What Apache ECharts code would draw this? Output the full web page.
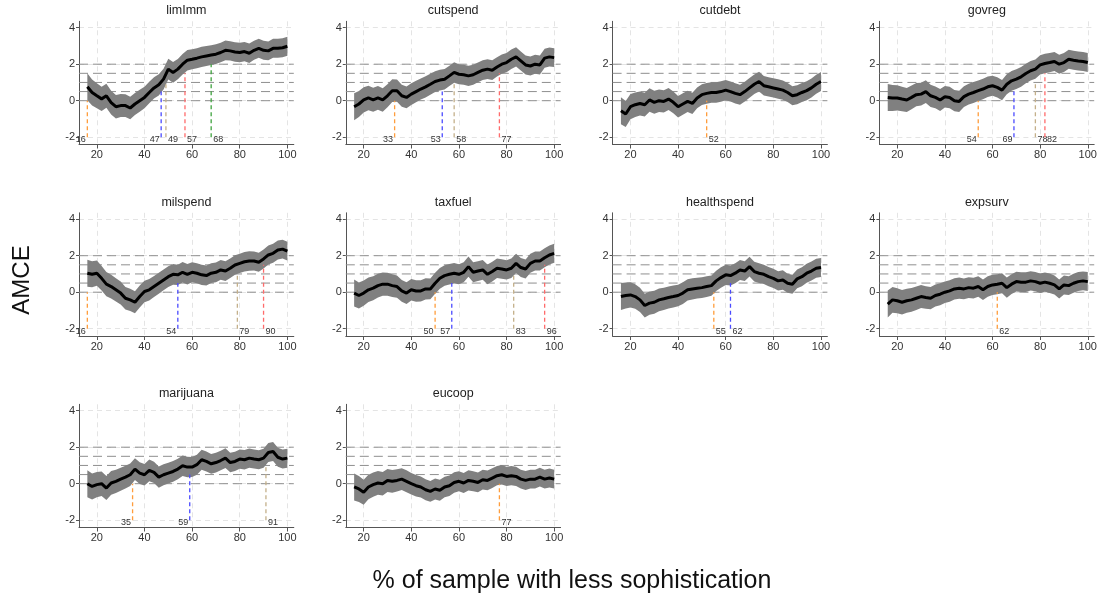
<!DOCTYPE html>
<html>
<head>
<meta charset="utf-8">
<script src="https://cdn.jsdelivr.net/npm/echarts@6/dist/echarts.min.js"></script>
<style>
  html, body { margin: 0; padding: 0; background: #fff; }
  #chart { width: 1103px; height: 602px; }
</style>
</head>
<body>
<div id="chart"></div>
<script>
// x positions of the smoothed estimates (% of sample with less sophistication)
var xs = [16,18,20,22,24,26,28,30,32,34,36,38,40,42,44,46,48,50,52,54,56,58,60,
          62,64,66,68,70,72,74,76,78,80,82,84,86,88,90,92,94,96,98,100];

var panelNames = ['limImm','cutspend','cutdebt','govreg','milspend','taxfuel',
                  'healthspend','expsurv','marijuana','eucoop'];

// AMCE estimates
var estLimImm = [0.76,0.45,0.27,0.1,0.27,-0.1,-0.33,-0.27,-0.27,-0.4,-0.18,0,0.18,0.45,0.7,0.87,1.18,1.73,1.55,1.73,2.0,2.22,2.27,
                 2.33,2.4,2.45,2.5,2.55,2.64,2.76,2.73,2.67,2.64,2.69,2.6,2.76,2.87,2.76,2.73,2.87,2.87,2.9,2.98];
var estCutspend = [-0.33,-0.18,0.04,0.15,0.05,0.15,0.04,0.27,0.55,0.55,0.27,0.18,0.36,0.5,0.64,0.76,0.9,1.05,1.13,1.18,1.36,1.55,1.45,
                   1.42,1.36,1.42,1.55,1.67,1.73,1.67,1.85,2.0,2.09,2.27,2.4,2.18,1.96,1.9,2.0,1.96,2.33,2.4,2.36];
var estCutdebt = [-0.55,-0.73,-0.33,-0.22,-0.15,-0.22,0.04,-0.09,0,-0.04,0.09,-0.09,-0.33,-0.18,-0.04,-0.15,0.15,0.33,0.4,0.45,0.45,0.5,0.58,
                  0.5,0.4,0.33,0.5,0.7,0.9,1.05,0.82,0.76,0.7,0.64,0.58,0.45,0.27,0.33,0.45,0.55,0.7,0.9,1.05];
var estGovreg = [0.18,0.15,0.15,0.09,0.04,0.18,0.33,0.36,0.5,0.27,0.18,0.04,0.22,0.18,0,-0.04,0.22,0.36,0.45,0.55,0.64,0.76,0.82,
                 0.73,0.58,0.9,1.09,1.18,1.31,1.49,1.64,1.73,1.96,2.04,2.09,2.15,2.0,2.09,2.27,2.22,2.18,2.15,2.09];
var estMilspend = [1.04,0.98,1.04,0.76,0.44,0.31,0.13,-0.05,-0.33,-0.42,-0.55,-0.24,0.04,0.13,0.31,0.49,0.67,0.85,0.98,0.95,1.09,0.98,1.09,
                   1.04,0.95,0.91,1.04,1.09,1.22,1.16,1.31,1.49,1.58,1.67,1.71,1.71,1.64,1.82,2.04,2.13,2.31,2.36,2.25];
var estTaxfuel = [-0.05,-0.18,-0.05,0.13,0.22,0.36,0.44,0.44,0.36,0.31,0.07,-0.05,0.13,0.07,0.07,0.18,0.18,0.49,0.76,0.91,0.98,1.04,0.98,
                  1.09,1.4,1.09,1.16,1.22,0.98,1.13,1.31,1.27,1.22,1.31,1.58,1.35,1.27,1.58,1.71,1.71,1.89,2.04,2.13];
var estHealthspend = [-0.24,-0.18,-0.15,-0.24,-0.42,-0.73,-0.6,-0.55,-0.42,-0.36,-0.29,-0.24,-0.18,-0.05,0.13,0.18,0.22,0.25,0.31,0.36,0.62,0.8,0.95,
                      0.91,1.04,1.22,1.16,1.4,1.13,1.04,0.98,0.85,0.76,0.62,0.67,0.49,0.44,0.73,0.85,1.04,1.16,1.31,1.35];
var estExpsurv = [-0.65,-0.42,-0.47,-0.55,-0.47,-0.42,-0.33,-0.24,-0.29,-0.33,-0.18,-0.11,0,0.07,0.18,0.22,0.18,0.25,0.22,0.31,0.13,0.31,0.4,
                  0.44,0.49,0.25,0.44,0.58,0.55,0.55,0.62,0.58,0.49,0.55,0.49,0.4,0.18,0.4,0.36,0.49,0.58,0.62,0.58];
var estMarijuana = [0,-0.15,-0.05,0,-0.24,0.04,0.13,0.25,0.36,0.49,0.8,0.58,0.49,0.73,0.62,0.36,0.49,0.58,0.67,0.8,0.98,0.91,0.91,
                    1.04,1.31,1.22,1.09,1.16,1.27,1.4,1.16,1.22,1.35,1.31,1.4,1.35,1.31,1.4,1.71,1.76,1.45,1.35,1.4];
var estEucoop = [-0.18,-0.29,-0.47,-0.18,-0.05,0.04,0,0.18,0.13,0.18,0.25,0.13,0,-0.11,-0.18,-0.33,-0.42,-0.29,-0.36,-0.18,-0.11,0.07,0.13,
                 0.04,0.18,0.13,0.07,0.22,0.18,0.31,0.44,0.49,0.4,0.44,0.4,0.25,0.18,0.25,0.25,0.36,0.25,0.31,0.25];

// half width of the 95% band (roughly the same in every panel)
var halfWidth = [0.74,0.71,0.69,0.67,0.66,0.65,0.64,0.63,0.62,0.61,0.6,0.6,0.59,0.59,0.58,0.58,0.57,0.57,0.57,0.56,0.56,0.56,0.55,
                 0.55,0.55,0.55,0.54,0.54,0.54,0.54,0.53,0.53,0.53,0.53,0.53,0.52,0.52,0.52,0.52,0.52,0.52,0.52,0.52];

// reference levels and the x where the lower bound first passes each one
var levels = [0, 0.5, 1, 1.5, 2];
var levelColors = ['#ff9d3c', '#4b4bff', '#c4b08a', '#ff6b6b', '#3fa33f'];
var cutLimImm = [16,47,49,57,68];
var cutCutspend = [33,53,58,77];
var cutCutdebt = [52];
var cutGovreg = [54,69,78,82];
var cutMilspend = [16,54,79,90];
var cutTaxfuel = [50,57,83,96];
var cutHealthspend = [55,62];
var cutExpsurv = [62];
var cutMarijuana = [35,59,91];
var cutEucoop = [77];
// which side of its line each number sits on
var sideLimImm = 'llrrr', sideCutspend = 'llrr', sideCutdebt = 'r', sideGovreg = 'llrr',
    sideMilspend = 'llrr', sideTaxfuel = 'llrr', sideHealthspend = 'rr', sideExpsurv = 'r',
    sideMarijuana = 'llr', sideEucoop = 'r';

var xTicks = [20, 40, 60, 80, 100];
var yTicks = [-2, 0, 2, 4];

var estimates = [estLimImm, estCutspend, estCutdebt, estGovreg, estMilspend, estTaxfuel,
                 estHealthspend, estExpsurv, estMarijuana, estEucoop];
var cuts = [cutLimImm, cutCutspend, cutCutdebt, cutGovreg, cutMilspend, cutTaxfuel,
            cutHealthspend, cutExpsurv, cutMarijuana, cutEucoop];
var sides = [sideLimImm, sideCutspend, sideCutdebt, sideGovreg, sideMilspend, sideTaxfuel,
             sideHealthspend, sideExpsurv, sideMarijuana, sideEucoop];

var FONT = 'Liberation Sans';
var chart = echarts.init(document.getElementById('chart'));

var grids = [], xAxes = [], yAxes = [], series = [], graphics = [];
var gw = 214.8, gh = 123.2;

panelNames.forEach(function (name, i) {
    var col = i % 4, row = Math.floor(i / 4);
    var left = 79 + col * 266.8, top = 21.3 + row * 191.5;
    var est = estimates[i];

    grids.push({ left: left, top: top, width: gw, height: gh });

    xAxes.push({
        type: 'value', gridIndex: i, min: 12.5, max: 102.7,
        axisLine: { show: true, onZero: false, lineStyle: { color: '#555', width: 1 } },
        axisTick: { show: true, length: 4, customValues: xTicks, lineStyle: { color: '#555' } },
        axisLabel: { customValues: xTicks, fontSize: 11, color: '#333', margin: 5, fontFamily: FONT },
        splitLine: { show: true, lineStyle: { color: '#e4e4e4', type: [5, 4] } }
    });
    yAxes.push({
        type: 'value', gridIndex: i, min: -2.4, max: 4.35,
        axisLine: { show: true, onZero: false, lineStyle: { color: '#555', width: 1 } },
        axisTick: { show: true, length: 3, customValues: yTicks, lineStyle: { color: '#555' } },
        axisLabel: { customValues: yTicks, fontSize: 11, color: '#333', margin: 4, fontFamily: FONT },
        splitLine: { show: true, lineStyle: { color: '#e4e4e4', type: [5, 4] } }
    });

    // dashed reference levels, drawn under the band
    series.push({
        type: 'custom', xAxisIndex: i, yAxisIndex: i, silent: true, z: 1,
        data: levels.map(function (v) { return [xs[0], v]; }),
        renderItem: function (params, api) {
            var cs = params.coordSys;
            var y = api.coord([xs[0], api.value(1)])[1];
            return {
                type: 'line',
                shape: { x1: cs.x, y1: y, x2: cs.x + cs.width, y2: y },
                style: { stroke: '#8f8f8f', lineWidth: 1, lineDash: [9, 5] }
            };
        }
    });
    // confidence band as one polygon
    series.push({
        type: 'custom', xAxisIndex: i, yAxisIndex: i, silent: true, z: 2,
        data: [[xs[0], est[0]]],
        renderItem: function (params, api) {
            var pts = [], k;
            for (k = 0; k < xs.length; k++) pts.push(api.coord([xs[k], est[k] + halfWidth[k]]));
            for (k = xs.length - 1; k >= 0; k--) pts.push(api.coord([xs[k], est[k] - halfWidth[k]]));
            return { type: 'polygon', shape: { points: pts }, style: { fill: '#808080' } };
        }
    });
    // estimate
    series.push({
        type: 'line', xAxisIndex: i, yAxisIndex: i, symbol: 'none', silent: true, z: 4,
        lineStyle: { color: '#000', width: 3 },
        data: xs.map(function (x, k) { return [x, est[k]]; })
    });
    // threshold lines with their numbers
    var side = sides[i];
    series.push({
        type: 'custom', xAxisIndex: i, yAxisIndex: i, silent: true, z: 3,
        data: cuts[i].map(function (x, k) { return [x, levels[k], k]; }),
        renderItem: function (params, api) {
            var x = api.value(0), lev = api.value(1), k = api.value(2);
            var p0 = api.coord([x, -2]), p1 = api.coord([x, lev]);
            var isLeft = side.charAt(k) === 'l';
            return {
                type: 'group',
                children: [{
                    type: 'line',
                    shape: { x1: p0[0], y1: p0[1], x2: p1[0], y2: p1[1] },
                    style: { stroke: levelColors[k], lineWidth: 1.3, lineDash: [4, 3] }
                }, {
                    type: 'text',
                    x: p0[0] + (isLeft ? -1.5 : 2), y: p0[1] + 2.5,
                    style: {
                        text: String(x), fill: '#333', fontSize: 9, fontFamily: FONT,
                        align: isLeft ? 'right' : 'left', verticalAlign: 'middle'
                    }
                }]
            };
        }
    });

    graphics.push({
        type: 'text', x: left + gw / 2, y: top - 10.5, silent: true,
        style: { text: name, fontSize: 12.5, fontFamily: FONT, fill: '#222', align: 'center', verticalAlign: 'middle' }
    });
});

graphics.push({
    type: 'text', x: 22, y: 280, rotation: Math.PI / 2, silent: true,
    style: { text: 'AMCE', fontSize: 24, fontFamily: FONT, fill: '#111', align: 'center', verticalAlign: 'middle' }
});
graphics.push({
    type: 'text', x: 572, y: 581, silent: true,
    style: { text: '% of sample with less sophistication', fontSize: 25, fontFamily: FONT, fill: '#111',
             align: 'center', verticalAlign: 'middle' }
});

chart.setOption({
    animation: false,
    backgroundColor: '#fff',
    textStyle: { fontFamily: FONT },
    grid: grids,
    xAxis: xAxes,
    yAxis: yAxes,
    series: series,
    graphic: graphics
});
</script>
</body>
</html>
